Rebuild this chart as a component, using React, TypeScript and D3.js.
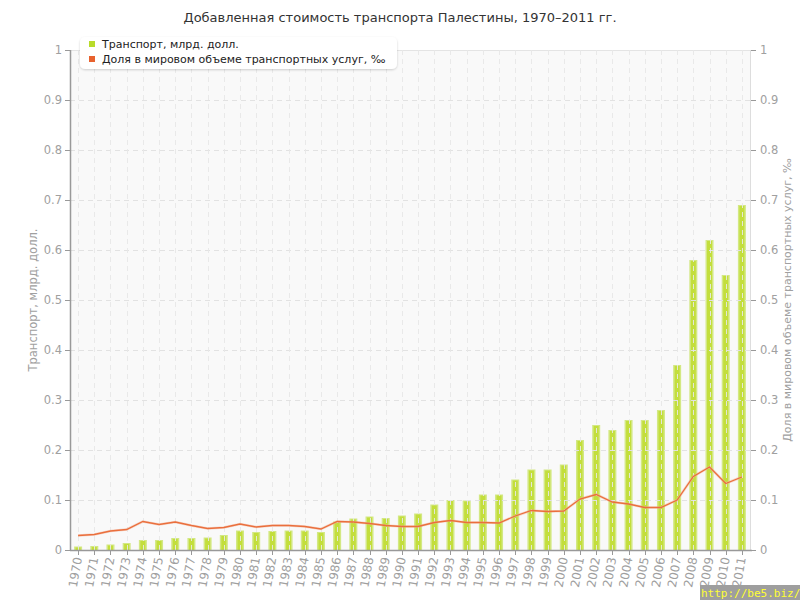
import { useMemo } from "react";
import * as d3 from "d3";

const title = "Добавленная стоимость транспорта Палестины, 1970–2011 гг.";
const leftTitle = "Транспорт, млрд. долл.";
const rightTitle = "Доля в мировом объеме транспортных услуг, ‰";

const years = d3.range(1970, 2012).map(String);

// Транспорт, млрд. долл.
const transport = [
  0.007, 0.008, 0.011, 0.014, 0.02, 0.02, 0.024, 0.024, 0.025, 0.03,
  0.039, 0.036, 0.038, 0.039, 0.039, 0.036, 0.057, 0.063, 0.067, 0.064,
  0.069, 0.073, 0.091, 0.1, 0.099, 0.111, 0.111, 0.141, 0.161, 0.161,
  0.171, 0.22, 0.25, 0.24, 0.26, 0.26, 0.28, 0.37, 0.58, 0.62,
  0.55, 0.69,
];

// Доля в мировом объеме, ‰
const share = [
  0.029, 0.031, 0.038, 0.041, 0.057, 0.051, 0.056, 0.049, 0.043, 0.045,
  0.052, 0.046, 0.049, 0.049, 0.047, 0.042, 0.057, 0.056, 0.053, 0.049,
  0.047, 0.047, 0.055, 0.059, 0.055, 0.055, 0.054, 0.068, 0.079, 0.077,
  0.078, 0.102, 0.111, 0.096, 0.092, 0.085, 0.085, 0.1, 0.147, 0.166,
  0.133, 0.146,
];

const yTicks = d3.range(0, 11).map((i) => i / 10);

const FONT = "'DejaVu Sans', Verdana, sans-serif";

export default function App() {
  const width = 800;
  const height = 600;
  const margin = { top: 50, right: 50, bottom: 50, left: 70 };

  const xScale = useMemo(
    () =>
      d3
        .scaleBand()
        .domain(years)
        .range([margin.left, width - margin.right]),
    [],
  );
  const yLeft = useMemo(
    () => d3.scaleLinear().domain([0, 1]).range([height - margin.bottom, margin.top]),
    [],
  );
  const yRight = useMemo(
    () => d3.scaleLinear().domain([0, 1]).range([height - margin.bottom, margin.top]),
    [],
  );

  const cx = (y: string) => (xScale(y) ?? 0) + xScale.bandwidth() / 2;
  const barW = 8;

  const linePath = d3
    .line<number>()
    .x((_, i) => cx(years[i]))
    .y((d) => yRight(d))(share);

  const x0 = margin.left;
  const x1 = width - margin.right;
  const yBase = yLeft(0);
  const yTop = yLeft(1);

  const fmt = (t: number) => (t === 0 || t === 1 ? String(t) : t.toFixed(1));

  return (
    <div style={{ position: "absolute", left: 0, top: 0 }}>
      <svg width={width} height={height} style={{ display: "block", fontFamily: FONT }}>
        <defs>
          <filter id="shadow" x="-5%" y="-20%" width="110%" height="160%">
            <feDropShadow dx="0" dy="1" stdDeviation="1.2" floodColor="#000" floodOpacity="0.18" />
          </filter>
        </defs>
        <rect width={width} height={height} fill="#fff" />

        {/* plot background */}
        <rect x={x0} y={yTop} width={x1 - x0} height={yBase - yTop} fill="#f9f9f9" />
        <line x1={x0} y1={yTop + 0.5} x2={x1} y2={yTop + 0.5} stroke="#e4e4e4" />

        {/* bars */}
        {years.map((yr, i) => {
          const y = yLeft(transport[i]);
          return (
            <g key={yr}>
              <rect
                x={cx(yr) - barW / 2}
                y={y}
                width={barW}
                height={yBase - y}
                fill="#d3e883"
              />
              <rect
                x={cx(yr) - barW / 2 + 1.5}
                y={y + 1}
                width={barW - 3}
                height={yBase - y - 1}
                fill="#c3de3c"
              />
            </g>
          );
        })}

        {/* grid */}
        {yTicks.slice(1, 10).map((t) => (
          <line
            key={`h${t}`}
            x1={x0}
            x2={x1}
            y1={Math.round(yLeft(t)) + 0.5}
            y2={Math.round(yLeft(t)) + 0.5}
            stroke="#e2e2e2"
            strokeDasharray="5,4"
          />
        ))}
        {years.map((yr) => (
          <line
            key={`v${yr}`}
            x1={Math.round(cx(yr)) + 0.5}
            x2={Math.round(cx(yr)) + 0.5}
            y1={yTop}
            y2={yBase}
            stroke="#e8e8e8"
            strokeDasharray="5,4"
            opacity={0.9}
          />
        ))}

        {/* line */}
        <path d={linePath ?? ""} fill="none" stroke="#f4b497" strokeWidth={2.6} opacity={0.5} />
        <path d={linePath ?? ""} fill="none" stroke="#ea6f3d" strokeWidth={1.3} />

        {/* axes */}
        <line x1={x0 + 0.5} y1={yTop} x2={x0 + 0.5} y2={yBase} stroke="#999" strokeWidth={1.5} />
        <line x1={x1 + 0.5} y1={yTop} x2={x1 + 0.5} y2={yBase} stroke="#ddd" />
        <line x1={x0} y1={yBase + 0.5} x2={x1 + 2} y2={yBase + 0.5} stroke="#999" strokeWidth={1.5} />

        {yTicks.map((t) => (
          <g key={`lt${t}`}>
            <line x1={x0 - 5} x2={x0} y1={Math.round(yLeft(t)) + 0.5} y2={Math.round(yLeft(t)) + 0.5} stroke="#999" />
            <text
              x={x0 - 8}
              y={yLeft(t)}
              textAnchor="end"
              dominantBaseline="middle"
              fontSize={11.5}
              fill="#a0a0a0"
            >
              {fmt(t)}
            </text>
          </g>
        ))}
        {yTicks.map((t) => (
          <g key={`rt${t}`}>
            <line x1={x1 + 1} x2={x1 + 6} y1={Math.round(yRight(t)) + 0.5} y2={Math.round(yRight(t)) + 0.5} stroke="#999" />
            <text
              x={x1 + 10}
              y={yRight(t)}
              textAnchor="start"
              dominantBaseline="middle"
              fontSize={11.5}
              fill="#a0a0a0"
            >
              {fmt(t)}
            </text>
          </g>
        ))}

        {years.map((yr) => (
          <g key={`xt${yr}`}>
            <line x1={Math.round(cx(yr)) + 0.5} x2={Math.round(cx(yr)) + 0.5} y1={yBase} y2={yBase + 5} stroke="#999" />
            <text
              transform={`translate(${cx(yr) + 4},${yBase + 8}) rotate(-80)`}
              textAnchor="end"
              fontSize={12}
              fill="#a0a0a0"
            >
              {yr}
            </text>
          </g>
        ))}

        {/* axis titles */}
        <text
          transform={`translate(37,${(yTop + yBase) / 2}) rotate(-90)`}
          textAnchor="middle"
          fontSize={11.5}
          fill="#a0a0a0"
        >
          {leftTitle}
        </text>
        <text
          transform={`translate(791,${(yTop + yBase) / 2}) rotate(-90)`}
          textAnchor="middle"
          fontSize={11}
          fill="#a0a0a0"
        >
          {rightTitle}
        </text>

        {/* title */}
        <text x={400} y={22} textAnchor="middle" fontSize={13} fill="#333">
          {title}
        </text>

        {/* legend */}
        <rect x={80} y={37} width={317} height={32} rx={5} fill="#fff" filter="url(#shadow)" />
        <rect x={89} y={41} width={6} height={6} fill="#b8db2a" />
        <text x={102} y={48} fontSize={11} fill="#222">
          Транспорт, млрд. долл.
        </text>
        <rect x={89} y={56} width={6} height={6} fill="#e8622e" />
        <text x={102} y={63} fontSize={11} fill="#222">
          {rightTitle}
        </text>

        {/* watermark */}
        <rect x={700} y={585} width={100} height={15} fill="#9e9e9e" />
        <text x={701} y={597} fontSize={11} fill="#ffff33" fontFamily="'DejaVu Sans Mono', monospace">
          http://be5.biz/
        </text>
      </svg>
    </div>
  );
}
